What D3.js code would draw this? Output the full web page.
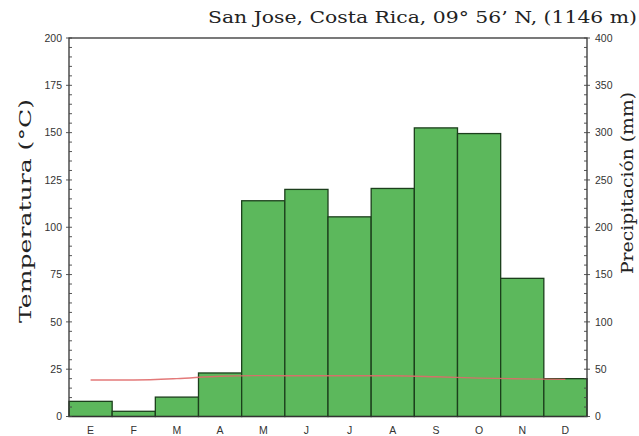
<!DOCTYPE html>
<html><head><meta charset="utf-8">
<script src="https://cdn.jsdelivr.net/npm/d3@7"></script>
<style>body{margin:0;background:#fff}svg{display:block}</style>
</head><body>
<svg id="c" width="639" height="436"></svg>
<script>
const months = ["E","F","M","A","M","J","J","A","S","O","N","D"];
const precipitation = [16, 5.5, 20.5, 46, 228, 240, 211, 241, 305, 299, 146, 40];
const temperature = [19.3, 19.3, 20.0, 21.3, 21.6, 21.5, 21.5, 21.5, 21.0, 20.3, 19.9, 19.6];
const tempTicks = [0,25,50,75,100,125,150,175,200];
const precTicks = [0,50,100,150,200,250,300,350,400];
const title = "San Jose, Costa Rica, 09\u00B0 56\u2019 N, (1146 m)";

const svg = d3.select("#c");
const m = {l:69, r:587, t:38, b:416.5};
const x = d3.scaleBand().domain(d3.range(12)).range([m.l, m.r]).padding(0);
const yT = d3.scaleLinear().domain([0,200]).range([m.b, m.t]);
const yP = d3.scaleLinear().domain([0,400]).range([m.b, m.t]);

// bars
svg.append("g").selectAll("rect").data(precipitation).join("rect")
  .attr("x", (d,i)=>x(i)).attr("width", x.bandwidth())
  .attr("y", d=>yP(d)).attr("height", d=>yP(0)-yP(d))
  .attr("fill","#5cb85c").attr("stroke","#1c3f1c").attr("stroke-width",1.3);

// temperature line
const line = d3.line().x((d,i)=>x(i)+x.bandwidth()/2).y(d=>yT(d)).curve(d3.curveMonotoneX);
svg.append("path").datum(temperature).attr("d", line)
  .attr("fill","none").attr("stroke","#e06a6a").attr("stroke-width",1.4).attr("opacity",0.9);

// frame
svg.append("rect").attr("x",m.l).attr("y",m.t).attr("width",m.r-m.l).attr("height",m.b-m.t)
  .attr("fill","none").attr("stroke","#333").attr("stroke-width",1.3);

const tickFont = "Liberation Sans, Arial, sans-serif";
// left axis
const gl = svg.append("g");
d3.range(0,201,5).forEach(v=>{
  const major = v%25===0;
  gl.append("line").attr("x1", major? m.l-3 : m.l).attr("x2", m.l+3)
    .attr("y1", yT(v)).attr("y2", yT(v)).attr("stroke","#444").attr("stroke-width",0.9);
});
gl.selectAll("text").data(tempTicks).join("text")
  .attr("x", m.l-7).attr("y", d=>yT(d)).attr("dy","0.35em").attr("text-anchor","end")
  .attr("font-family", tickFont).attr("font-size",10.5).attr("fill","#333").text(d=>d);
// right axis
const gr = svg.append("g");
d3.range(0,401,10).forEach(v=>{
  const major = v%50===0;
  gr.append("line").attr("x1", m.r-3).attr("x2", major? m.r+3 : m.r)
    .attr("y1", yP(v)).attr("y2", yP(v)).attr("stroke","#444").attr("stroke-width",0.9);
});
gr.selectAll("text").data(precTicks).join("text")
  .attr("x", m.r+8).attr("y", d=>yP(d)).attr("dy","0.35em").attr("text-anchor","start")
  .attr("font-family", tickFont).attr("font-size",10.5).attr("fill","#333").text(d=>d);
// x labels
svg.append("g").selectAll("text").data(months).join("text")
  .attr("x",(d,i)=>x(i)+x.bandwidth()/2).attr("y", 434).attr("text-anchor","middle")
  .attr("font-family", tickFont).attr("font-size",10.5).attr("fill","#333").text(d=>d);

const serif = "DejaVu Serif, serif";
svg.append("text").attr("x",637).attr("y",23).attr("text-anchor","end")
  .attr("font-family",serif).attr("font-size",16.5).attr("fill","#222")
  .attr("textLength",429).attr("lengthAdjust","spacingAndGlyphs").text(title);
svg.append("text").attr("transform",`translate(31,211) rotate(-90)`)
  .attr("text-anchor","middle").attr("font-family",serif).attr("font-size",16.5).attr("fill","#222")
  .attr("textLength",224).attr("lengthAdjust","spacingAndGlyphs")
  .text("Temperatura (\u00B0C)");
svg.append("text").attr("transform",`translate(633,183) rotate(-90)`)
  .attr("text-anchor","middle").attr("font-family",serif).attr("font-size",16.5).attr("fill","#222")
  .attr("textLength",182).attr("lengthAdjust","spacingAndGlyphs")
  .text("Precipitaci\u00F3n (mm)");
</script>
</body></html>
